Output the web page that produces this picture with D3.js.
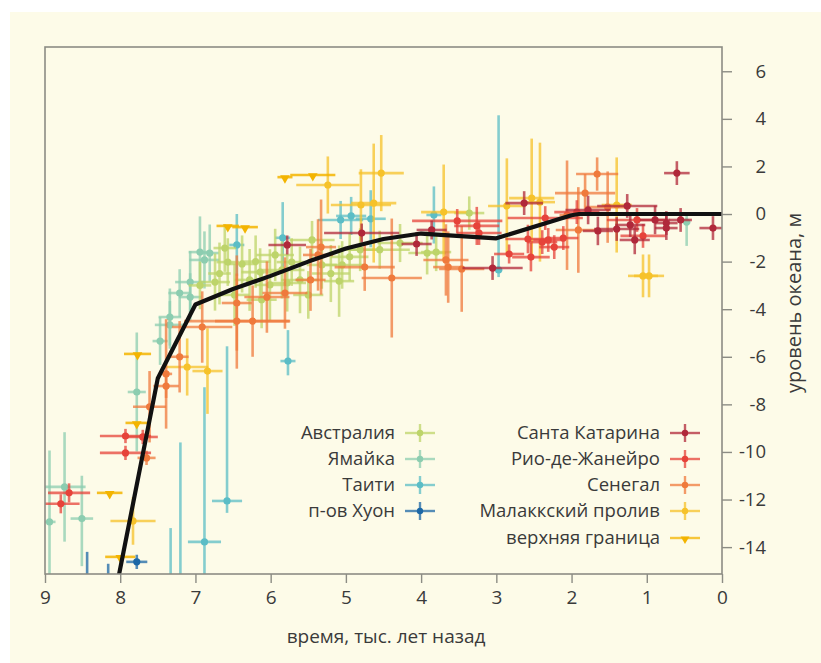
<!DOCTYPE html>
<html><head><meta charset="utf-8">
<script src="https://cdn.jsdelivr.net/npm/d3@7"></script>
<style>
html,body{margin:0;padding:0;background:#fff;}
svg{display:block;font-family:"Open Sans","Noto Sans",sans-serif;}
</style></head>
<body>
<svg id="c" width="821" height="663"></svg>
<script>
// ---- data: [time kyr BP, sea level m, x half-error, y error down, y error up]
const australia = [
 [6.57,-2.02,.15,1.0,1.0],[6.38,-2.1,.2,1.2,1.2],[6.28,-2.77,.2,1.3,1.3],[6.14,-2.44,.25,1.0,1.0],
 [6.01,-2.98,.2,1.5,1.5],[5.85,-2.35,.3,1.2,1.2],[5.72,-2.02,.2,1.0,1.0],[5.61,-2.77,.25,1.4,1.4],
 [5.45,-1.09,.3,.8,.8],[5.32,-2.14,.2,1.0,1.0],[5.09,-2.82,.2,1.5,1.5],[5.05,-2.14,.3,1.0,1.0],
 [4.95,-1.8,.25,1.0,1.0],[4.81,-1.5,.25,.9,.9],[4.55,-1.5,.4,.8,.8],[4.28,-1.22,.3,.8,.8],
 [3.92,-1.64,.25,.9,.9],[3.8,-1.6,.2,.8,.8],[3.36,0.04,.2,.7,.7],[6.74,-2.86,.2,1.2,1.2],
 [6.48,-3.4,.2,1.3,1.3],[6.61,-1.43,.15,1.0,1.0],[6.12,-3.6,.2,1.2,1.2],[5.5,-3.4,.2,1.0,1.0],
 [6.94,-3.0,.15,1.0,1.0],[5.94,-1.72,.25,1.1,1.1],[6.2,-2.0,.2,1.1,1.1],[5.78,-2.9,.25,1.2,1.2],
 [5.2,-2.5,.25,1.2,1.2],[6.68,-2.5,.15,1.3,1.3]
];
const jamaica = [
 [8.74,-11.47,.28,2.3,2.3],[8.94,-12.94,.08,2.5,3.0],[8.51,-12.8,.15,2.0,1.8],[7.78,-7.48,.12,2.5,2.5],
 [7.47,-5.34,.1,1.0,1.0],[7.34,-4.33,.15,1.2,1.2],[7.34,-4.66,.2,1.0,1.0],[7.21,-3.32,.15,1.0,1.0],
 [7.07,-2.86,.2,1.3,1.3],[7.07,-3.49,.15,1.0,1.0],[6.94,-1.6,.15,1.5,1.5],[6.81,-1.64,.12,1.2,1.2],
 [6.88,-1.93,.2,1.2,1.2],[0.47,-0.34,.05,1.0,0.3]
];
const tahiti = [
 [6.88,-13.78,.22,1.5,6.5],[6.58,-12.06,.2,0.5,6.5],[5.77,-6.18,.1,0.6,1.3],[6.45,-1.3,.1,1.3,1.3],
 [5.84,-1.0,.1,1.5,1.5],[5.07,-0.25,.3,.8,.8],[4.93,-0.08,.2,.8,.8],[4.67,-0.2,.2,1.2,1.2],
 [3.83,-0.04,.1,1.2,1.2],[2.97,-2.35,.05,0.3,6.5],[7.33,-16.2,.05,1,3.0],[7.2,-15.8,.05,1,6.2]
];
const huon = [
 [7.78,-14.62,.14,.3,.3],[8.44,-15.8,.05,1,1.6],[8.16,-15.6,.05,1,0.9]
];
const santaCatarina = [
 [5.78,-1.3,.25,.4,.4],[4.79,-0.8,.5,.4,.4],[4.06,-1.26,.2,.5,.5],[3.86,-0.67,.2,.4,.4],
 [3.05,-2.27,.4,.5,.5],[2.63,0.46,.25,.5,.5],[1.78,0.17,.3,.6,.6],[1.26,0.34,.4,.5,.5],
 [1.65,-0.71,.2,.6,.6],[1.4,-0.63,.3,.5,.5],[1.22,-0.46,.2,.5,.5],[0.89,-0.25,.2,.6,.6],
 [0.74,-0.38,.15,.5,.5],[0.74,-0.59,.15,.5,.5],[0.55,-0.25,.15,.5,.5],[0.12,-0.59,.18,.5,.5],
 [0.6,1.72,.17,.5,.5],[1.16,-1.09,.2,.6,.6]
];
const rio = [
 [8.68,-11.72,.28,.4,.4],[8.79,-12.18,.25,.4,.4],[7.93,-9.33,.34,.3,.3],[7.7,-9.37,.2,.3,.3],
 [7.93,-10.04,.34,.3,.3],[3.52,-0.29,.6,.5,.5],[3.26,-0.5,.3,.8,.8],[3.23,-0.8,.3,.5,.5],
 [2.83,-1.68,.2,.4,.4],[2.54,-1.81,.25,.6,.6],[2.35,-0.17,.5,.5,.5],[2.58,-1.05,.3,.6,.6],
 [2.39,-1.18,.2,.5,.5],[2.31,-1.09,.2,.5,.5],[2.23,-1.39,.2,.5,.5],[2.11,-1.01,.2,.5,.5],
 [1.93,0.08,.3,.5,.5],[1.05,-0.92,.3,.5,.5],[1.13,-0.25,.4,.5,.5]
];
const senegal = [
 [7.65,-10.25,.12,.3,.3],[7.39,-6.72,.08,2.3,2.3],[7.39,-7.23,.17,.5,.5],[7.61,-8.1,.22,1.5,1.5],
 [7.21,-6.0,.12,1.5,1.5],[6.91,-4.75,.4,1.5,1.5],[6.45,-4.5,.7,2.0,2.0],[6.24,-4.5,.5,1.5,1.5],
 [6.45,-3.74,.2,2.0,2.0],[5.81,-3.32,.3,1.5,1.5],[6.05,-3.49,.3,1.5,1.5],[5.33,-1.39,.2,2.0,2.0],
 [5.37,-1.72,.2,1.5,1.5],[4.75,-2.23,.4,1.0,1.0],[4.39,-2.69,.4,2.5,2.5],[5.47,-2.77,.2,1.3,1.3],
 [3.67,-1.93,.3,1.5,1.5],[3.64,-2.23,.2,1.5,1.5],[3.46,-2.31,.3,1.8,1.8],[1.66,1.68,.28,.7,.7],
 [1.82,0.88,.4,.8,.8],[1.52,0.29,.3,1.5,1.5],[1.91,-0.67,.3,1.8,1.8],[2.06,-0.05,.1,2.3,2.3]
];
const malacca = [
 [7.83,-12.9,.3,1.0,1.0],[7.11,-6.43,.28,1.2,1.2],[6.84,-6.6,.2,1.8,1.8],[5.24,1.22,.42,1.2,1.2],
 [4.53,1.72,.3,1.6,1.6],[4.8,0.38,.4,1.5,1.5],[4.63,0.46,.3,2.5,2.5],[3.7,0.08,.3,2.0,2.0],
 [2.86,0.34,.25,2.0,2.0],[2.53,0.67,.3,2.5,2.5],[2.42,0.5,.2,2.5,2.5],[1.4,0.38,.2,2.0,2.0],
 [1.05,-2.6,.2,.9,.9],[0.97,-2.6,.2,.9,.9]
];
const upperLimit = [
 [8.14,-11.72,.17],[7.77,-5.88,.18],[7.78,-8.78,.15],[6.57,-0.5,.15],
 [6.34,-0.55,.17],[5.81,1.55,.1],[5.44,1.64,.3],[8.0,-14.41,.2]
];
const curve = [
 [8.1,-16.5],[7.5,-6.9],[7.0,-3.8],[6.5,-3.15],[6.0,-2.6],[5.5,-2.0],[5.0,-1.45],
 [4.5,-1.05],[4.0,-0.82],[3.0,-1.02],[2.0,-0.05],[1.9,0],[0,0]
];
const xTicks = [9,8,7,6,5,4,3,2,1,0];
const yTicks = [6,4,2,0,-2,-4,-6,-8,-10,-12,-14];
const seriesNames = ["Австралия","Ямайка","Таити","п-ов Хуон","Санта Катарина","Рио-де-Жанейро","Сенегал","Малаккский пролив","верхняя граница"];
const seriesColors = ["#bdd46a","#8ccdb0","#5bbdc6","#1b67a6","#b0283a","#e6433a","#ef7a3c","#f6c22a","#f3b400"];

const series = [australia,jamaica,tahiti,huon,santaCatarina,rio,senegal,malacca];

// ---- layout
const svg = d3.select("#c");
const L=45, R=722, T=47, B=574;
svg.append("rect").attr("x",10).attr("y",12).attr("width",811).attr("height",651).attr("fill","#fdfbe8");

const x = d3.scaleLinear().domain([9,0]).range([L,R]);
const y = d3.scaleLinear().domain([-15.13,7.02]).range([B,T]);

svg.append("defs").append("clipPath").attr("id","clip")
  .append("rect").attr("x",L).attr("y",T).attr("width",R-L).attr("height",B-T);

const plot = svg.append("g").attr("clip-path","url(#clip)");

const order = [2,1,0,3,7,6,5,4];
order.forEach(i=>{
  const col = seriesColors[i];
  const g = plot.append("g");
  const d = series[i];
  g.selectAll("line.h").data(d).join("line")
    .attr("x1",p=>x(p[0]+p[2])).attr("x2",p=>x(p[0]-p[2]))
    .attr("y1",p=>y(p[1])).attr("y2",p=>y(p[1]))
    .attr("stroke",col).attr("stroke-width",2.6).attr("stroke-opacity",0.75);
  g.selectAll("line.v").data(d).join("line")
    .attr("x1",p=>x(p[0])).attr("x2",p=>x(p[0]))
    .attr("y1",p=>y(p[1]-p[3])).attr("y2",p=>y(p[1]+p[4]))
    .attr("stroke",col).attr("stroke-width",2.6).attr("stroke-opacity",0.75);
  g.selectAll("circle").data(d).join("circle")
    .attr("cx",p=>x(p[0])).attr("cy",p=>y(p[1])).attr("r",3.6).attr("fill",col);
});
{
  const col = seriesColors[8];
  const g = plot.append("g");
  g.selectAll("line").data(upperLimit).join("line")
    .attr("x1",p=>x(p[0]+p[2])).attr("x2",p=>x(p[0]-p[2]))
    .attr("y1",p=>y(p[1])).attr("y2",p=>y(p[1]))
    .attr("stroke",col).attr("stroke-width",2.6).attr("stroke-opacity",0.85);
  g.selectAll("path").data(upperLimit).join("path")
    .attr("d",d3.symbol(d3.symbolTriangle,40))
    .attr("transform",p=>`translate(${x(p[0])},${y(p[1])+1}) rotate(180)`)
    .attr("fill",col);
}
plot.append("path").datum(curve)
  .attr("d",d3.line().x(p=>x(p[0])).y(p=>y(p[1])))
  .attr("fill","none").attr("stroke","#111").attr("stroke-width",4.2).attr("stroke-linejoin","round");

svg.append("rect").attr("x",L).attr("y",T).attr("width",R-L).attr("height",B-T)
  .attr("fill","none").attr("stroke","#8c8c84").attr("stroke-width",1.6);

const xAxis = d3.axisBottom(x).tickValues(xTicks).tickSize(9).tickFormat(d3.format("d"));
const gx = svg.append("g").attr("transform",`translate(0,${B})`).call(xAxis);
gx.select(".domain").remove();
gx.selectAll(".tick line").attr("stroke","#8c8c84").attr("stroke-width",1.4);
gx.selectAll(".tick text").attr("font-size",19).attr("fill","#3a3a3a").attr("dy","0.95em").attr("font-family","Open Sans");

const yAxis = d3.axisRight(y).tickValues(yTicks).tickSize(10).tickFormat(d3.format("d"));
const gy = svg.append("g").attr("transform",`translate(${R},0)`).call(yAxis);
gy.select(".domain").remove();
gy.selectAll(".tick line").attr("stroke","#8c8c84").attr("stroke-width",1.4);
gy.selectAll(".tick text").attr("font-size",18.5).attr("fill","#3a3a3a").attr("text-anchor","end").attr("x",44).attr("font-family","Open Sans")
  .text(d=>d<0?"-"+Math.abs(d):d);

svg.append("text").attr("x",386).attr("y",643).attr("text-anchor","middle")
  .attr("font-size",19).attr("fill","#3a3a3a").text("время, тыс. лет назад");
svg.append("text").attr("transform","translate(801,303) rotate(-90)").attr("text-anchor","middle")
  .attr("font-size",20).attr("fill","#3a3a3a").text("уровень океана, м");

const legPos = [[395,420,433],[395,420,459],[395,420,485],[395,420,511],
                [660,685,433],[660,685,459],[660,685,485],[660,685,511],[660,685,538]];
seriesNames.forEach((n,i)=>{
  const [tx,mx,ly] = legPos[i];
  const col = seriesColors[i];
  const g = svg.append("g");
  g.append("text").attr("x",tx).attr("y",ly).attr("dy","0.35em").attr("text-anchor","end")
    .attr("font-size",18.5).attr("fill","#3a3a3a").text(n);
  g.append("line").attr("x1",mx-15).attr("x2",mx+15).attr("y1",ly).attr("y2",ly)
    .attr("stroke",col).attr("stroke-width",2.4).attr("stroke-opacity",0.75);
  if(i<8){
    g.append("line").attr("x1",mx).attr("x2",mx).attr("y1",ly-9).attr("y2",ly+9)
      .attr("stroke",col).attr("stroke-width",2.4).attr("stroke-opacity",0.75);
    g.append("circle").attr("cx",mx).attr("cy",ly).attr("r",3.2).attr("fill",col);
  } else {
    g.append("path").attr("d",d3.symbol(d3.symbolTriangle,34))
      .attr("transform",`translate(${mx},${ly+1}) rotate(180)`).attr("fill",col);
  }
});
</script>
</body></html>
